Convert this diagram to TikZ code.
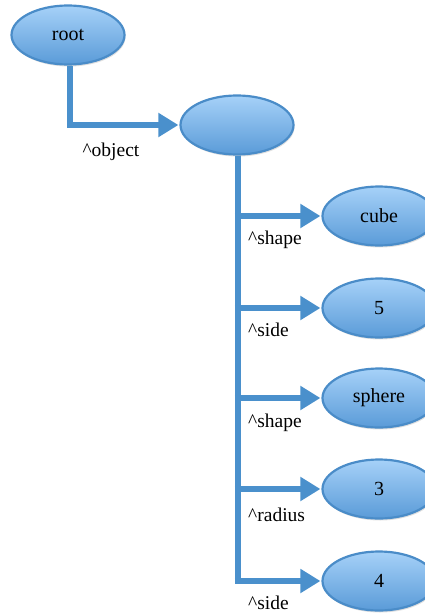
\documentclass[tikz,border=0pt]{standalone}
\usepackage{fontspec}
\setmainfont{Liberation Serif}
\usetikzlibrary{shapes.geometric,arrows.meta,shadows}
\definecolor{topblue}{HTML}{A6D1F8}
\definecolor{botblue}{HTML}{5A9BD8}
\definecolor{edgeblue}{HTML}{4A8CC8}
\definecolor{lineblue}{HTML}{4A90CC}
\tikzset{
  bubble/.style={ellipse, minimum width=113pt, minimum height=59pt, inner sep=0pt,
    top color=topblue, bottom color=botblue, draw=edgeblue, line width=2.2pt,
    drop shadow={shadow xshift=1pt, shadow yshift=-2pt, opacity=0.25},
    font=\fontsize{20}{24}\selectfont},
  conn/.style={draw=lineblue, line width=6.5pt,
    -{Triangle[length=20pt,width=23pt,fill=lineblue]}, shorten >=1pt},
  stem/.style={draw=lineblue, line width=6.5pt},
  lab/.style={font=\fontsize{19.5}{23}\selectfont, inner sep=0pt}
}
\begin{document}
\begin{tikzpicture}[x=1pt,y=-1pt]
\useasboundingbox (0,0) rectangle (425,613);
\node[bubble] (root) at (68,35) {root};
\node[bubble] (mid) at (237,125) {};
\node[bubble] (l1) at (379,216) {cube};
\node[bubble] (l2) at (379,308) {5};
\node[bubble] (l3) at (379,398) {sphere};
\node[bubble] (l4) at (379,489) {3};
\node[bubble] (l5) at (379,581) {4};
\coordinate (rs) at (70,0);
\draw[conn] (root.south -| rs) |- (mid.west);
\coordinate (ms) at (238,0);
\draw[stem] (mid.south -| ms) -- ([yshift=3.25pt]ms |- l5.west);
\draw[conn] ([xshift=-3.25pt]ms |- l1.west) -- (l1.west);
\draw[conn] ([xshift=-3.25pt]ms |- l2.west) -- (l2.west);
\draw[conn] ([xshift=-3.25pt]ms |- l3.west) -- (l3.west);
\draw[conn] ([xshift=-3.25pt]ms |- l4.west) -- (l4.west);
\draw[conn] ([xshift=-3.25pt]ms |- l5.west) -- (l5.west);
\node[lab] (t0) at (111,152) {\textasciicircum object};
\node[lab, anchor=west] (t1) at (248,240) {\textasciicircum shape};
\node[lab, anchor=west] (t2) at (248,330) {\textasciicircum side};
\node[lab, anchor=west] (t3) at (248,423) {\textasciicircum shape};
\node[lab, anchor=west] (t4) at (248,515) {\textasciicircum radius};
\node[lab, anchor=west] (t5) at (248,603) {\textasciicircum side};
\end{tikzpicture}
\end{document}
